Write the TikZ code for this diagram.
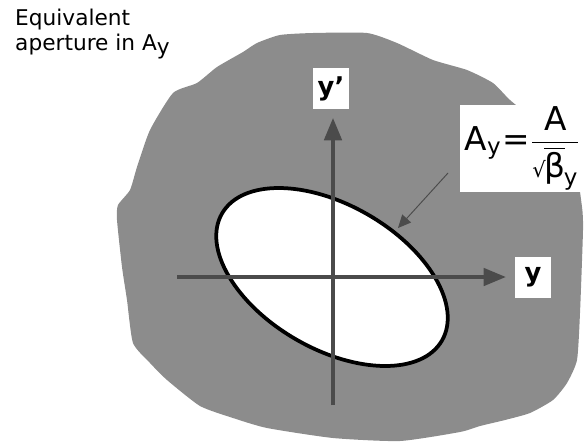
\documentclass[tikz,border=0pt]{standalone}
\usepackage{amsmath}
\usepackage{fontspec}
\setmainfont{DejaVu Sans}
\usetikzlibrary{arrows.meta}
\definecolor{apgray}{RGB}{140,140,140}
\definecolor{axgray}{RGB}{75,75,75}

\begin{document}
\begin{tikzpicture}[x=0.03cm, y=-0.03cm,
    aperture/.style={fill=apgray, draw=none},
    axis/.style={draw=axgray, line width=2.7pt, -{Triangle[length=19pt, width=15pt]}},
    rim/.style={draw=black, line width=3.2pt, fill=white},
    axlabel/.style={fill=white, inner sep=0pt, minimum width=31pt, minimum height=35pt,
        font=\fontsize{22}{22}\selectfont\bfseries},
    formula/.style={fill=white, inner sep=0pt, minimum width=105pt, minimum height=74pt,
        font=\fontsize{28}{32}\selectfont},
    caption/.style={align=left, inner sep=0pt, font=\fontsize{18.5}{21}\selectfont},
    pointer/.style={draw=axgray, line width=0.8pt, -{Triangle[length=11pt, width=10pt]}}
]
    \useasboundingbox (0,0) rectangle (584,443);
    % grey region of the aperture
    \fill[aperture] plot[smooth cycle, tension=0.35] coordinates {
        (137,167) (150,130) (173,93) (197,83) (217,67) (243,52) (257,43) (280,35)
        (313,33) (367,33) (397,43) (433,60) (467,70) (493,83) (510,100) (545,130)
        (575,170) (582,207) (583,230) (580,313) (577,360) (567,383) (553,400)
        (530,413) (505,420) (480,426) (460,432) (400,441) (333,438) (267,428)
        (233,418) (200,406) (167,380) (150,363) (133,343) (127,300) (122,267)
        (117,220) (118,205) (130,190)};
    % beam ellipse
    \coordinate (origin) at (332,277);
    \draw[rim, rotate around={-30:(origin)}] (origin) ellipse [x radius=127, y radius=72];
    % labels
    \node[caption, anchor=north west] (title) at (15,9) {Equivalent\\aperture in A\raisebox{-4pt}{y}};
    \node[axlabel] (ylab) at (533,277) {y};
    \node[axlabel] (yplab) at (331,88.5) {y’};
    \node[formula] (ay) at (522,148.5)
        {$\text{A}_{\text{y}}\kern1pt\text{=}\kern1pt\dfrac{\text{A}}
         {\text{\fontsize{18}{18}\selectfont√}\kern-1.5pt\overline{\text{β}}_{\kern-1pt\text{y}}}$};
    % axes
    \coordinate (hstart) at (177,277);
    \coordinate (vstart) at (333,405);
    \draw[axis, shorten >=7.5pt] (hstart) -- (hstart -| ylab.west);
    \draw[axis, shorten >=7.5pt] (vstart) -- (vstart |- yplab.south);
    % arrow to the rim
    \coordinate (ptail) at (448,173);
    \coordinate (phead) at (398,228);
    \draw[pointer] (ptail) -- (phead);
\end{tikzpicture}
\end{document}
